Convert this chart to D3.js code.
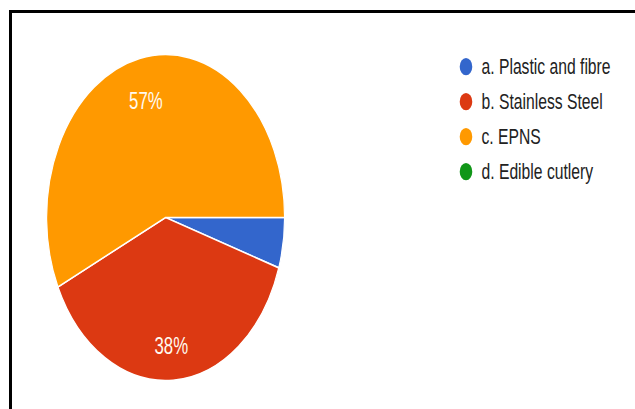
<!DOCTYPE html>
<html>
<head>
<meta charset="utf-8">
<script src="https://cdn.jsdelivr.net/npm/d3@7"></script>
<style>
  html, body { margin: 0; padding: 0; background: #ffffff; }
  svg { display: block; }
</style>
</head>
<body>
<svg id="chart" width="635" height="409"></svg>
<script>
// Survey answers: preferred cutlery material (share of responses, %)
const categories = ["a. Plastic and fibre", "b. Stainless Steel", "c. EPNS", "d. Edible cutlery"];
const shares = [5, 38, 57, 0];
const colors = ["#3366cc", "#dc3912", "#ff9900", "#109618"];

const W = 635, H = 409;
const sx = 0.73;            // horizontal squeeze of the whole figure
const cx = 165.6, cy = 217.5;
const radius = 163;
const labelRadius = 124;
const fontFamily = "'Liberation Sans', Arial, sans-serif";

const svg = d3.select("#chart");
svg.append("rect").attr("width", W).attr("height", H).attr("fill", "#ffffff");

// frame along the top and left edges
svg.append("path")
  .attr("d", `M10.5,${H} V11.5 H${W}`)
  .attr("fill", "none")
  .attr("stroke", "#000")
  .attr("stroke-width", 3);

const g = svg.append("g").attr("transform", `scale(${sx},1)`);

const color = d3.scaleOrdinal().domain(categories).range(colors);

const data = categories.map((c, i) => ({ name: c, value: shares[i] }));

const pie = d3.pie()
  .sort(null)
  .value(d => d.value)
  .startAngle(Math.PI / 2)
  .endAngle(Math.PI / 2 + 2 * Math.PI);

const arcs = pie(data);
const arc = d3.arc().innerRadius(0).outerRadius(radius);
const labelArc = d3.arc().innerRadius(labelRadius).outerRadius(labelRadius);

const pieG = g.append("g").attr("transform", `translate(${cx / sx},${cy})`);

pieG.selectAll("path.slice")
  .data(arcs.filter(d => d.data.value > 0))
  .join("path")
  .attr("class", "slice")
  .attr("d", arc)
  .attr("fill", d => color(d.data.name))
  .attr("stroke", "#ffffff")
  .attr("stroke-width", 1.6)
  .attr("stroke-linejoin", "round");

pieG.selectAll("text.pct")
  .data(arcs.filter(d => d.data.value >= 10))
  .join("text")
  .attr("class", "pct")
  .attr("x", d => labelArc.centroid(d)[0])
  .attr("y", d => labelArc.centroid(d)[1] + 4)
  .attr("dy", "0.36em")
  .attr("text-anchor", "middle")
  .attr("font-family", fontFamily)
  .attr("font-size", 23)
  .attr("fill", "#fffaf0")
  .text(d => `${d.data.value}%`);

// legend
const legendX = 466 / sx, textX = 481.5 / sx;
const legendY = d3.scalePoint().domain(categories).range([66.7, 171.7]);

const leg = g.append("g").selectAll("g")
  .data(categories)
  .join("g")
  .attr("transform", d => `translate(0,${legendY(d)})`);

leg.append("circle")
  .attr("cx", legendX)
  .attr("cy", 0)
  .attr("r", 8.6)
  .attr("fill", d => color(d));

leg.append("text")
  .attr("x", textX)
  .attr("y", 0)
  .attr("dy", "0.35em")
  .attr("font-family", fontFamily)
  .attr("font-size", 21.5)
  .attr("fill", "#222222")
  .text(d => d);
</script>
</body>
</html>
